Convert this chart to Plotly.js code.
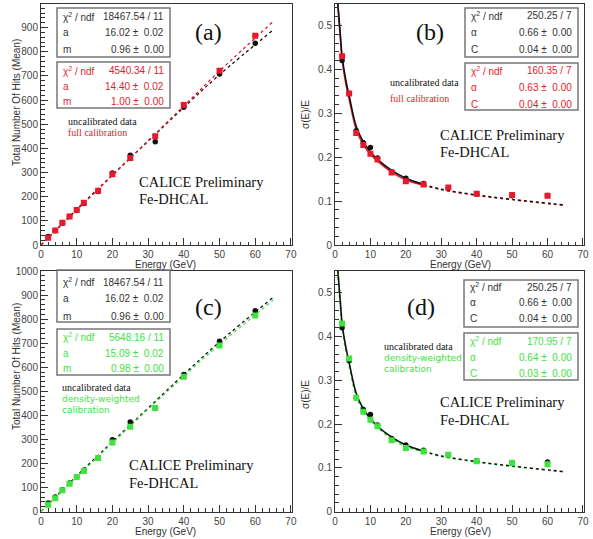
<!DOCTYPE html>
<html><head><meta charset="utf-8">
<script src="https://cdn.plot.ly/plotly-3.0.1.min.js"></script>
<style>html,body{margin:0;padding:0;background:#fff}#chart{width:593px;height:539px}</style>
</head><body><div id="chart"></div>
<script>
// ---- data ----
const energy = [2,4,6,8,10,12,16,20,25,32,40,50,60];
const hitsUncal = [35,60,90,118,145,172,222,298,372,428,570,708,835];
const hitsFull = [30,60,92,118,145,175,225,293,360,450,580,722,866];
const hitsDensity = [28,55,88,115,143,168,222,287,352,430,560,690,815];

const resUncal = [0.42,0.345,0.26,0.233,0.222,0.198,0.167,0.152,0.14,0.13,0.116,0.112,0.113];
const resFull = [0.43,0.345,0.255,0.228,0.208,0.195,0.165,0.145,0.138,0.131,0.117,0.114,0.112];
const resDensity = [0.43,0.35,0.26,0.228,0.21,0.195,0.163,0.145,0.137,0.13,0.115,0.111,0.108];

// fit curves
const fitLinE = [0,10,20,30,40,50,65];
const fitLinUncal = [0,148,290,430,570,705,890];
const fitLinFull = [0,144,288,432,576,720,925];
const fitLinDensity = [0,143,285,425,562,695,878];

const fitResE = [0.8,1,1.5,2,3,4,6,8,10,12,16,20,25];
const fitResUncal = [0.55,0.53,0.48,0.43,0.378,0.34,0.27,0.235,0.212,0.195,0.17,0.152,0.138];
const fitResFull = [0.55,0.525,0.473,0.424,0.37,0.332,0.263,0.228,0.207,0.191,0.166,0.148,0.136];
const fitResDensity = [0.55,0.527,0.476,0.427,0.373,0.335,0.265,0.23,0.209,0.193,0.167,0.149,0.137];
const tailE = [25,30,40,50,65];
const tailUncal = [0.138,0.127,0.114,0.104,0.091];
const tailFull = [0.136,0.126,0.113,0.103,0.09];
const tailDensity = [0.137,0.126,0.113,0.103,0.09];

const xTicks = [0,10,20,30,40,50,60,70];
const statsUncalLin = [['χ<sup>2</sup> / ndf','18467.54 / 11'],['a','16.02 ±  0.02'],['m','0.96 ±  0.00']];
const statsFullLin = [['χ<sup>2</sup> / ndf','4540.34 / 11'],['a','14.40 ±  0.02'],['m','1.00 ±  0.00']];
const statsDensLin = [['χ<sup>2</sup> / ndf','5648.16 / 11'],['a','15.09 ±  0.02'],['m','0.98 ±  0.00']];
const statsUncalRes = [['χ<sup>2</sup> / ndf','250.25 / 7'],['α','0.66 ±  0.00'],['C','0.04 ±  0.00']];
const statsFullRes = [['χ<sup>2</sup> / ndf','160.35 / 7'],['α','0.63 ±  0.00'],['C','0.04 ±  0.00']];
const statsDensRes = [['χ<sup>2</sup> / ndf','170.95 / 7'],['α','0.64 ±  0.00'],['C','0.03 ±  0.00']];

// ---- styling ----
const W = 593, H = 539;
const BLACK = '#111111', RED = '#e8192c', GREEN = '#3fe23f';
const px = x => x / W, py = y => 1 - y / H;

const traces = [];
function pts(xa, ya, x, y, color, sym, size) {
  traces.push({x, y, xaxis: xa, yaxis: ya, type: 'scatter', mode: 'markers',
    marker: {color, symbol: sym, size}, showlegend: false, hoverinfo: 'skip'});
}
function line(xa, ya, x, y, color, dash, width, shape) {
  traces.push({x, y, xaxis: xa, yaxis: ya, type: 'scatter', mode: 'lines',
    line: {color, dash, width, shape: shape || 'spline'}, showlegend: false, hoverinfo: 'skip'});
}
// panel a
line('x','y', fitLinE, fitLinUncal, BLACK, 'dot', 1.3);
line('x','y', fitLinE, fitLinFull, RED, 'dot', 1.3);
pts('x','y', energy, hitsUncal, BLACK, 'circle', 5.5);
pts('x','y', energy, hitsFull, RED, 'square', 6);
// panel c
line('x3','y3', fitLinE, fitLinUncal, BLACK, 'dot', 1.3);
line('x3','y3', fitLinE, fitLinDensity, GREEN, 'dot', 1.3);
pts('x3','y3', energy, hitsUncal, BLACK, 'circle', 5.5);
pts('x3','y3', energy, hitsDensity, GREEN, 'square', 6);
// panel b
line('x2','y2', tailE, tailFull, RED, 'dot', 1.4);
line('x2','y2', tailE, tailUncal, BLACK, 'dot', 1.4);
line('x2','y2', fitResE, fitResFull, RED, 'solid', 1.6);
line('x2','y2', fitResE, fitResUncal, BLACK, 'solid', 1.6);
pts('x2','y2', energy, resUncal, BLACK, 'circle', 5.5);
pts('x2','y2', energy, resFull, RED, 'square', 6);
// panel d
line('x4','y4', tailE, tailDensity, GREEN, 'dot', 1.4);
line('x4','y4', tailE, tailUncal, BLACK, 'dot', 1.4);
line('x4','y4', fitResE, fitResDensity, GREEN, 'dot', 2);
line('x4','y4', fitResE, fitResUncal, BLACK, 'solid', 1.6);
pts('x4','y4', energy, resUncal, BLACK, 'circle', 5.5);
pts('x4','y4', energy, resDensity, GREEN, 'square', 6);

const tickFont = {family: 'Liberation Sans, Arial, sans-serif', size: 10, color: '#444'};
function xAxis(domain, anchor) {
  return {domain, anchor, range: [0, 70.3], tickvals: xTicks, ticks: 'inside', ticklen: 7,
    tickcolor: '#333', showline: true, linecolor: '#333', linewidth: 1, mirror: true,
    showgrid: false, zeroline: false, tickfont: tickFont, ticklabelstandoff: 0,
    minor: {ticks: 'inside', ticklen: 3.5, dtick: 2, tickcolor: '#333', showgrid: false}};
}
function yAxis(domain, anchor, range, dtick, minor) {
  return {domain, anchor, range, dtick, tick0: 0, ticks: 'inside', ticklen: 7,
    tickcolor: '#333', showline: true, linecolor: '#333', linewidth: 1, mirror: true,
    showgrid: false, zeroline: false, tickfont: tickFont,
    minor: {ticks: 'inside', ticklen: 3.5, dtick: minor, tickcolor: '#333', showgrid: false}};
}
const xL = [px(41), px(292)], xR = [px(335), px(584)];
const yT = [py(245), py(3.5)], yB = [py(511.5), py(271)];

const shapes = [], annotations = [];
const statFont = (c) => ({family: 'Liberation Sans, Arial, sans-serif', size: 10, color: c});
function statBox(x0, x1, y0, y1, rows, rowY, color, border) {
  shapes.push({type: 'rect', xref: 'paper', yref: 'paper', x0: px(x0), x1: px(x1), y0: py(y1), y1: py(y0),
    line: {color: border, width: 1.5}, fillcolor: 'rgba(255,255,255,0)'});
  rows.forEach((r, i) => {
    annotations.push({xref: 'paper', yref: 'paper', x: px(x0 + 4), y: py(rowY[i]), xanchor: 'left', yanchor: 'middle',
      text: r[0], showarrow: false, font: statFont(color)});
    annotations.push({xref: 'paper', yref: 'paper', x: px(x1 - 4), y: py(rowY[i]), xanchor: 'right', yanchor: 'middle',
      text: r[1].replace('  ', '&nbsp;&nbsp;'), showarrow: false, font: statFont(color)});
  });
}
statBox(57, 170, 8, 57, statsUncalLin, [17, 33, 49], '#333', '#777');
statBox(57, 170, 62, 108, statsFullLin, [71, 86, 101], RED, '#777');
statBox(465, 578, 8, 57, statsUncalRes, [16, 32, 49], '#333', '#777');
statBox(465, 578, 63, 110, statsFullRes, [71, 88, 104], RED, '#777');
statBox(57, 170, 270, 322, statsUncalLin, [282, 298, 316], '#333', '#777');
statBox(57, 170, 329, 375, statsDensLin, [337, 353, 368], GREEN, '#777');
statBox(464, 578, 280, 327, statsUncalRes, [287, 302, 318], '#333', '#777');
statBox(464, 578, 333, 380, statsDensRes, [341, 357, 373], GREEN, '#777');

const serif = 'Liberation Serif, Times New Roman, serif';
function txt(x, y, text, size, color, family, anchor) {
  annotations.push({xref: 'paper', yref: 'paper', x: px(x), y: py(y), xanchor: anchor || 'left', yanchor: 'middle',
    text, showarrow: false, font: {family: family || serif, size, color: color || '#111'}});
}
// panel labels
txt(193, 32, '(a)', 24); txt(414, 32, '(b)', 24); txt(193, 307, '(c)', 24); txt(405, 307, '(d)', 24);
// legends
txt(66, 121, 'uncalibrated data', 10); txt(66, 132, 'full calibration', 10, RED);
txt(388, 82, 'uncalibrated data', 10); txt(388, 99, 'full calibration', 10, RED);
const sans2 = 'DejaVu Sans, Verdana, sans-serif';
txt(60, 387, 'uncalibrated data', 10); txt(60, 398.5, 'density-weighted', 9, GREEN, sans2); txt(60, 410, 'calibration', 9, GREEN, sans2);
txt(382, 346, 'uncalibrated data', 10); txt(382, 357.5, 'density-weighted', 9, GREEN, sans2); txt(382, 369, 'calibration', 9, GREEN, sans2);
// CALICE
txt(137, 182, 'CALICE Preliminary', 14.5); txt(137, 199, 'Fe-DHCAL', 14.5);
txt(438, 135, 'CALICE Preliminary', 14.5); txt(438, 152, 'Fe-DHCAL', 14.5);
txt(127, 465, 'CALICE Preliminary', 14.5); txt(127, 483, 'Fe-DHCAL', 14.5);
txt(438, 402, 'CALICE Preliminary', 14.5); txt(438, 420, 'Fe-DHCAL', 14.5);
// axis titles
const axF = 'Liberation Sans, Arial, sans-serif';
txt(166, 264.5, 'Energy (GeV)', 10, '#333', axF, 'center');
txt(460, 264.5, 'Energy (GeV)', 10, '#333', axF, 'center');
txt(166, 531, 'Energy (GeV)', 10, '#333', axF, 'center');
txt(460, 531, 'Energy (GeV)', 10, '#333', axF, 'center');
function ytitle(x, y, text) {
  annotations.push({xref: 'paper', yref: 'paper', x: px(x), y: py(y), xanchor: 'center', yanchor: 'middle',
    text, textangle: -90, showarrow: false, font: {family: axF, size: 10, color: '#333'}});
}
ytitle(16, 103, 'Total Number Of Hits (Mean)');
ytitle(16, 367, 'Total Number Of Hits (Mean)');
ytitle(305, 115, 'σ(E)/E');
ytitle(305, 395, 'σ(E)/E');

const layout = {
  width: W, height: H, margin: {l: 0, r: 0, t: 0, b: 0}, paper_bgcolor: '#fff', plot_bgcolor: '#fff',
  showlegend: false,
  xaxis: xAxis(xL, 'y'), yaxis: yAxis(yT, 'x', [0, 1000], 100, 20),
  xaxis2: xAxis(xR, 'y2'), yaxis2: yAxis(yT, 'x2', [0, 0.55], 0.1, 0.02),
  xaxis3: xAxis(xL, 'y3'), yaxis3: yAxis(yB, 'x3', [0, 1000], 100, 20),
  xaxis4: xAxis(xR, 'y4'), yaxis4: yAxis(yB, 'x4', [0, 0.55], 0.1, 0.02),
  shapes, annotations
};
Plotly.newPlot('chart', traces, layout, {staticPlot: true, displayModeBar: false});
</script></body></html>
